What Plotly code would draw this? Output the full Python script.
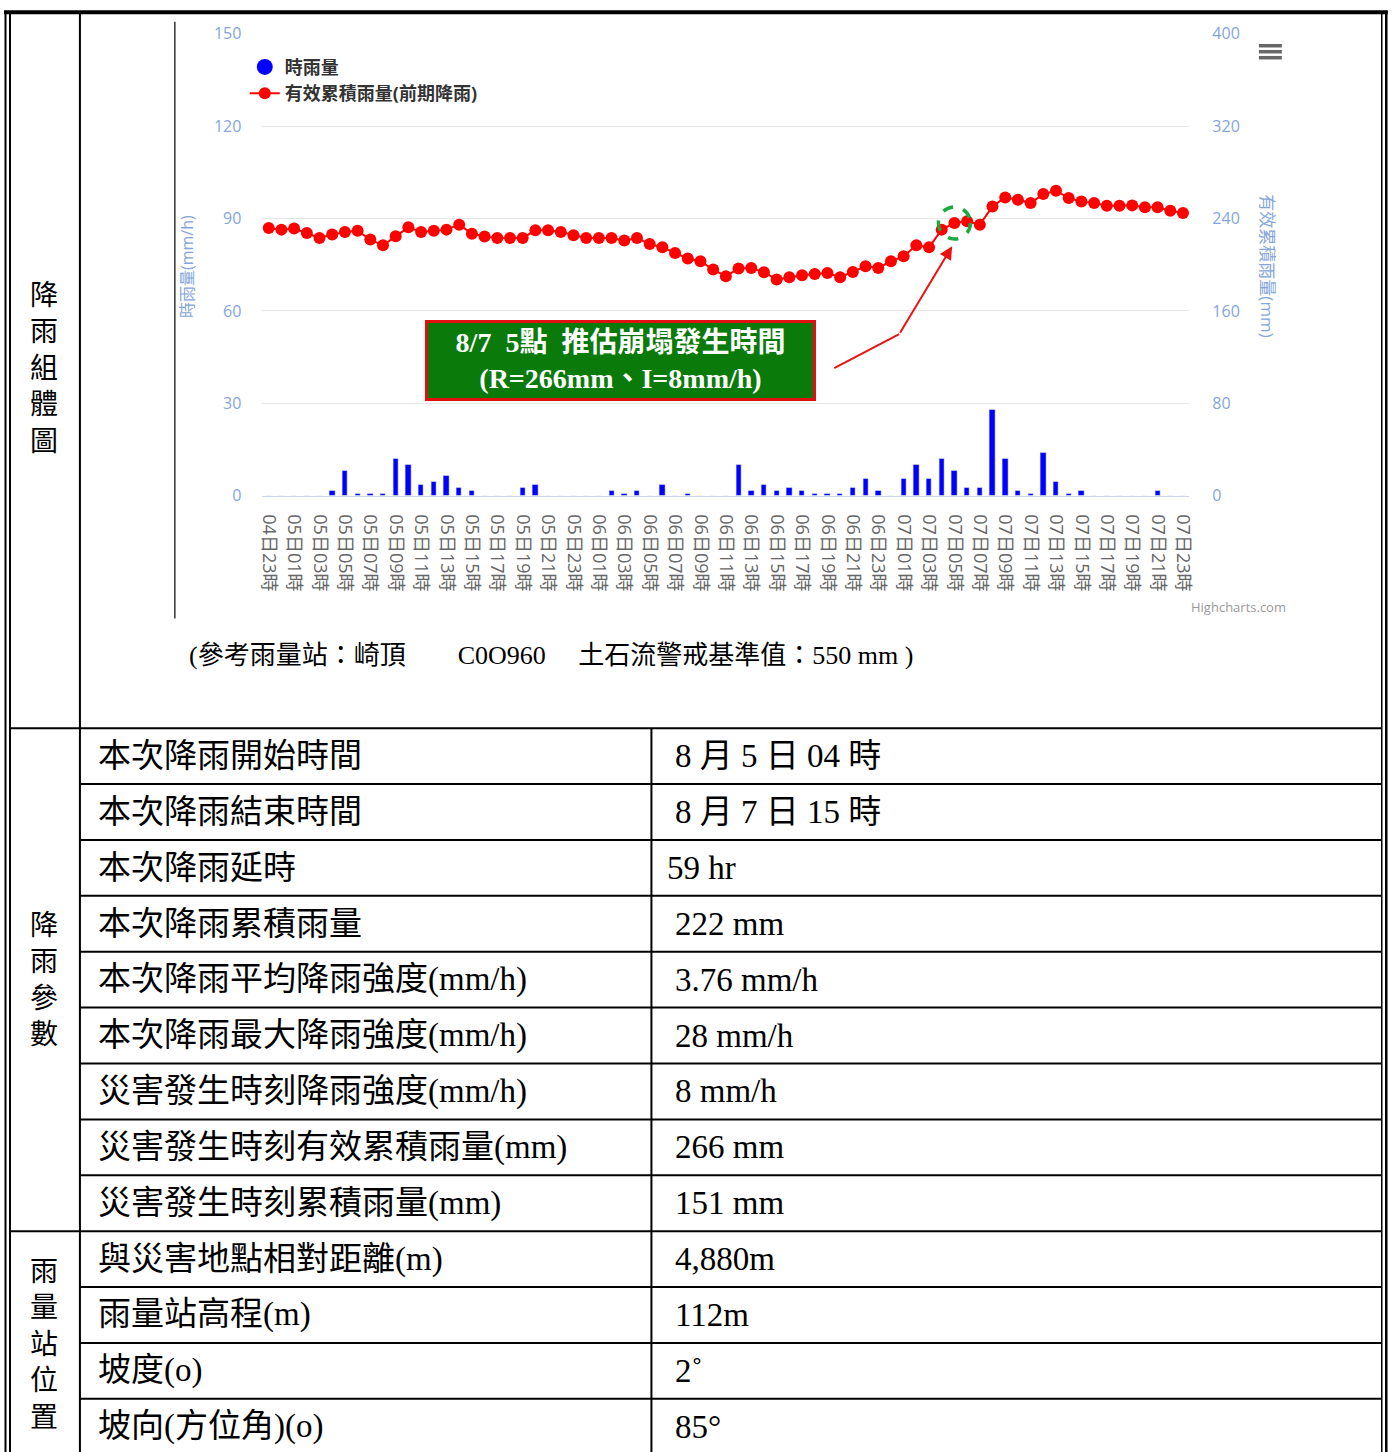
import plotly.graph_objects as go

W, H = 1395, 1452
# measured capture transform of the screenshot pipeline (page px -> picture px)
SX, CX = 0.993, 3.0
SY, CY = 0.987, 9.2

# ---------------- data ----------------
categories = ["04日23時"] + [f"{d:02d}日{h:02d}時" for d in (5, 6, 7) for h in range(24)]

hourly_rain = [
    0, 0, 0, 0, 0, 1.5, 8, 0.5, 0.5, 0.5,
    12, 10, 3.5, 4.5, 6.5, 2.5, 1.5, 0, 0, 0,
    2.5, 3.5, 0, 0, 0, 0, 0, 1.5, 0.5, 1.5,
    0, 3.5, 0, 0.5, 0, 0, 0, 10, 1.5, 3.5,
    1.5, 2.5, 1.5, 0.5, 0.5, 0.5, 2.5, 5.5, 1.5, 0,
    5.5, 10, 5.5, 12, 8, 2.5, 2.5, 28, 12, 1.5,
    0.5, 14, 4.5, 0.5, 1.5, 0, 0, 0, 0, 0,
    1.5, 0, 0,
]

effective_rain = [
    231.8, 230.4, 231.3, 227.5, 223.2, 226.1, 228.3, 229.5, 221.8, 216.8,
    224.6, 232.4, 228.3, 229.5, 230.4, 234.7, 226.9, 224.4, 223.2, 223.2,
    223.2, 229.8, 229.8, 228.3, 225.5, 223.2, 223.2, 223.2, 220.9, 223.2,
    218.0, 215.1, 210.2, 205.4, 203.0, 195.8, 190.1, 196.7, 197.2, 193.5,
    187.2, 189.2, 190.9, 192.0, 192.9, 189.2, 193.8, 198.7, 197.2, 203.0,
    207.3, 216.8, 215.1, 230.4, 236.1, 237.6, 234.7, 250.5, 258.3, 256.3,
    253.4, 261.2, 264.1, 257.7, 254.8, 253.4, 251.1, 251.1, 251.4, 249.7,
    249.7, 246.8, 244.8,
]

left_ticks = [0, 30, 60, 90, 120, 150]
right_ticks = [0, 80, 160, 240, 320, 400]
event_index = 54  # 07日05時

param_labels = [
    "本次降雨開始時間", "本次降雨結束時間", "本次降雨延時", "本次降雨累積雨量",
    "本次降雨平均降雨強度(mm/h)", "本次降雨最大降雨強度(mm/h)",
    "災害發生時刻降雨強度(mm/h)", "災害發生時刻有效累積雨量(mm)", "災害發生時刻累積雨量(mm)",
]
param_values = [
    "8 月 5 日 04 時", "8 月 7 日 15 時", "59 hr", "222 mm", "3.76 mm/h",
    "28 mm/h", "8 mm/h", "266 mm", "151 mm",
]
station_labels = ["與災害地點相對距離(m)", "雨量站高程(m)", "坡度(o)", "坡向(方位角)(o)"]
station_values = ["4,880m", "112m", "2˚", "85°"]

caption = "(參考雨量站：崎頂　　C0O960　 土石流警戒基準值：550 mm )"
box_text = "<b>8/7  5點  推估崩塌發生時間</b><br><b>(R=266mm、I=8mm/h)</b>"


# ---------------- helpers (target picture px -> paper) ----------------
def px(x):
    return ((x - CX) / SX) / W


def py(y):
    return 1 - ((y - CY) / SY) / H


TABLE_FONT = "Liberation Serif, Noto Sans CJK TC"
CHART_FONT = "Open Sans, Noto Sans CJK TC, sans-serif"
AXIS_BLUE = "#84a5db"

fig = go.Figure()

fig.add_trace(go.Bar(
    x=categories, y=hourly_rain, name="時雨量", marker_color="#0000ff",
    width=0.42, showlegend=False, yaxis="y",
))
# legend entry (circle symbol, as in the reference)
fig.add_trace(go.Scatter(
    x=[None], y=[None], mode="markers", name="時雨量",
    marker=dict(color="#0000ff", size=17, symbol="circle"), yaxis="y",
))
fig.add_trace(go.Scatter(
    x=categories, y=effective_rain, name="有效累積雨量(前期降雨)", mode="lines+markers",
    line=dict(color="#ff0000", width=2), marker=dict(color="#ff0000", size=12),
    yaxis="y2",
))

shapes = []


def hline(y, x0, x1, w=2, color="black"):
    shapes.append(dict(type="line", xref="paper", yref="paper", x0=px(x0), x1=px(x1),
                       y0=py(y), y1=py(y), line=dict(color=color, width=w)))


def vline(x, y0, y1, w=2, color="black"):
    shapes.append(dict(type="line", xref="paper", yref="paper", x0=px(x), x1=px(x),
                       y0=py(y0), y1=py(y1), line=dict(color=color, width=w)))


BOTTOM = 1460
# outer borders
hline(10.5, 3, 1388, w=4)
vline(4.5, 9, BOTTOM, w=2)
vline(9, 11, BOTTOM, w=2)
vline(1382, 11, BOTTOM, w=1.5)
vline(1386.5, 9, BOTTOM, w=2.5)
# inner grid
vline(79, 11, BOTTOM, w=2)
vline(651, 728, BOTTOM, w=2)
hline(728, 9, 1382, w=2)
for k in range(1, 13):
    yy = 728 + 56 * k
    if k == 9:
        hline(yy, 9, 1382, w=2)
    else:
        hline(yy, 79, 1382, w=2)

# chart image left edge
vline(174, 20, 618, w=1.5, color="#333333")
# highcharts menu icon
for yy in (44, 50, 56):
    shapes.append(dict(type="line", xref="paper", yref="paper", x0=px(1259), x1=px(1282),
                       y0=py(yy), y1=py(yy), line=dict(color="#666666", width=3.5)))
# red pointer line (first segment)
shapes.append(dict(type="line", xref="paper", yref="paper", x0=px(834), y0=py(367),
                   x1=px(899), y1=py(333), line=dict(color="#ee1111", width=2)))
# green dashed circle around event point
shapes.append(dict(type="circle", xref="x", yref="y2", xsizemode="pixel", ysizemode="pixel",
                   xanchor=categories[event_index], yanchor=effective_rain[event_index],
                   x0=-16, x1=16, y0=-16, y1=16,
                   line=dict(color="#1aab40", width=3.5, dash="dash")))

annotations = []


def text(x, y, s, size=33, anchor="left", color="black", family=TABLE_FONT, **kw):
    annotations.append(dict(xref="paper", yref="paper", x=px(x), y=py(y), text=s,
                            showarrow=False, xanchor=anchor, yanchor="middle",
                            font=dict(size=size, color=color, family=family), **kw))


# section labels
text(43, 367, "<br>".join("降雨組體圖"), size=28, anchor="center")
text(43, 980, "<br>".join("降雨參數"), size=28, anchor="center")
text(43, 1346, "<br>".join("雨量站位置"), size=28, anchor="center")

for i, (lab, val) in enumerate(zip(param_labels, param_values)):
    yc = 756 + 56 * i
    text(95, yc, lab)
    text(665 if val == "59 hr" else 673, yc, val)
for i, (lab, val) in enumerate(zip(station_labels, station_values)):
    yc = 1260 + 56 * i
    text(95, yc, lab)
    text(673, yc, val)

text(186, 655, caption, size=26)

# axis titles
text(186, 265, "時雨量(mm/h)", size=16, anchor="center", color=AXIS_BLUE, family=CHART_FONT,
     textangle=-90)
text(1268, 265, "有效累積雨量(mm)", size=17, anchor="center", color=AXIS_BLUE, family=CHART_FONT,
     textangle=90)
# credit
annotations.append(dict(xref="paper", yref="paper", x=px(1288), y=py(607), text="Highcharts.com",
                        showarrow=False, xanchor="right", yanchor="middle",
                        font=dict(size=13, color="#999999", family=CHART_FONT)))
# annotation box
annotations.append(dict(xref="paper", yref="paper", x=px(620), y=py(359.5), text=box_text,
                        showarrow=False, xanchor="center", yanchor="middle",
                        width=385, height=75, bgcolor="#0a7a0a", bordercolor="#e01010",
                        borderwidth=3, borderpad=0,
                        font=dict(size=28, color="white", family=TABLE_FONT)))
# arrow head segment
annotations.append(dict(xref="paper", yref="paper", x=px(952), y=py(245), ax=899 - 952,
                        ay=333 - 245, text="", showarrow=True, arrowhead=2, arrowsize=1.3,
                        arrowwidth=2, arrowcolor="#ee1111"))

fig.update_layout(
    width=W, height=H,
    margin=dict(l=0, r=0, t=0, b=0),
    paper_bgcolor="white", plot_bgcolor="white",
    font=dict(family=CHART_FONT),
    bargap=0,
    xaxis=dict(
        domain=[px(261.6), px(1189.4)], type="category", range=[-0.5, 72.5],
        tickmode="array", tickvals=categories[::2], ticktext=categories[::2],
        tickangle=90, tickfont=dict(size=18, color="#666666", family=CHART_FONT),
        showgrid=False, showline=True, linecolor="#ccd6eb", linewidth=1,
        ticks="", ticklabelstandoff=14, fixedrange=True,
    ),
    yaxis=dict(
        domain=[py(495), py(32)], range=[0, 150], tickvals=left_ticks,
        tickfont=dict(size=16, color=AXIS_BLUE, family=CHART_FONT),
        showgrid=True, gridcolor="#e6e6e6", gridwidth=1, zeroline=False,
        ticklabelstandoff=20, fixedrange=True,
    ),
    yaxis2=dict(
        domain=[py(495), py(32)], range=[0, 400], tickvals=right_ticks, overlaying="y",
        side="right", anchor="x",
        tickfont=dict(size=16, color=AXIS_BLUE, family=CHART_FONT),
        showgrid=False, zeroline=False, ticklabelstandoff=22, fixedrange=True,
    ),
    legend=dict(x=px(244), y=py(47), xanchor="left", yanchor="top",
                bgcolor="rgba(0,0,0,0)",
                font=dict(size=18, color="#333333", family=CHART_FONT, weight="bold"),
                itemsizing="trace", tracegroupgap=0),
    shapes=shapes,
    annotations=annotations,
)

fig.write_html("out.html", config={"displayModeBar": False},
               post_script="document.body.style.margin='0';document.body.style.overflow='hidden';")
